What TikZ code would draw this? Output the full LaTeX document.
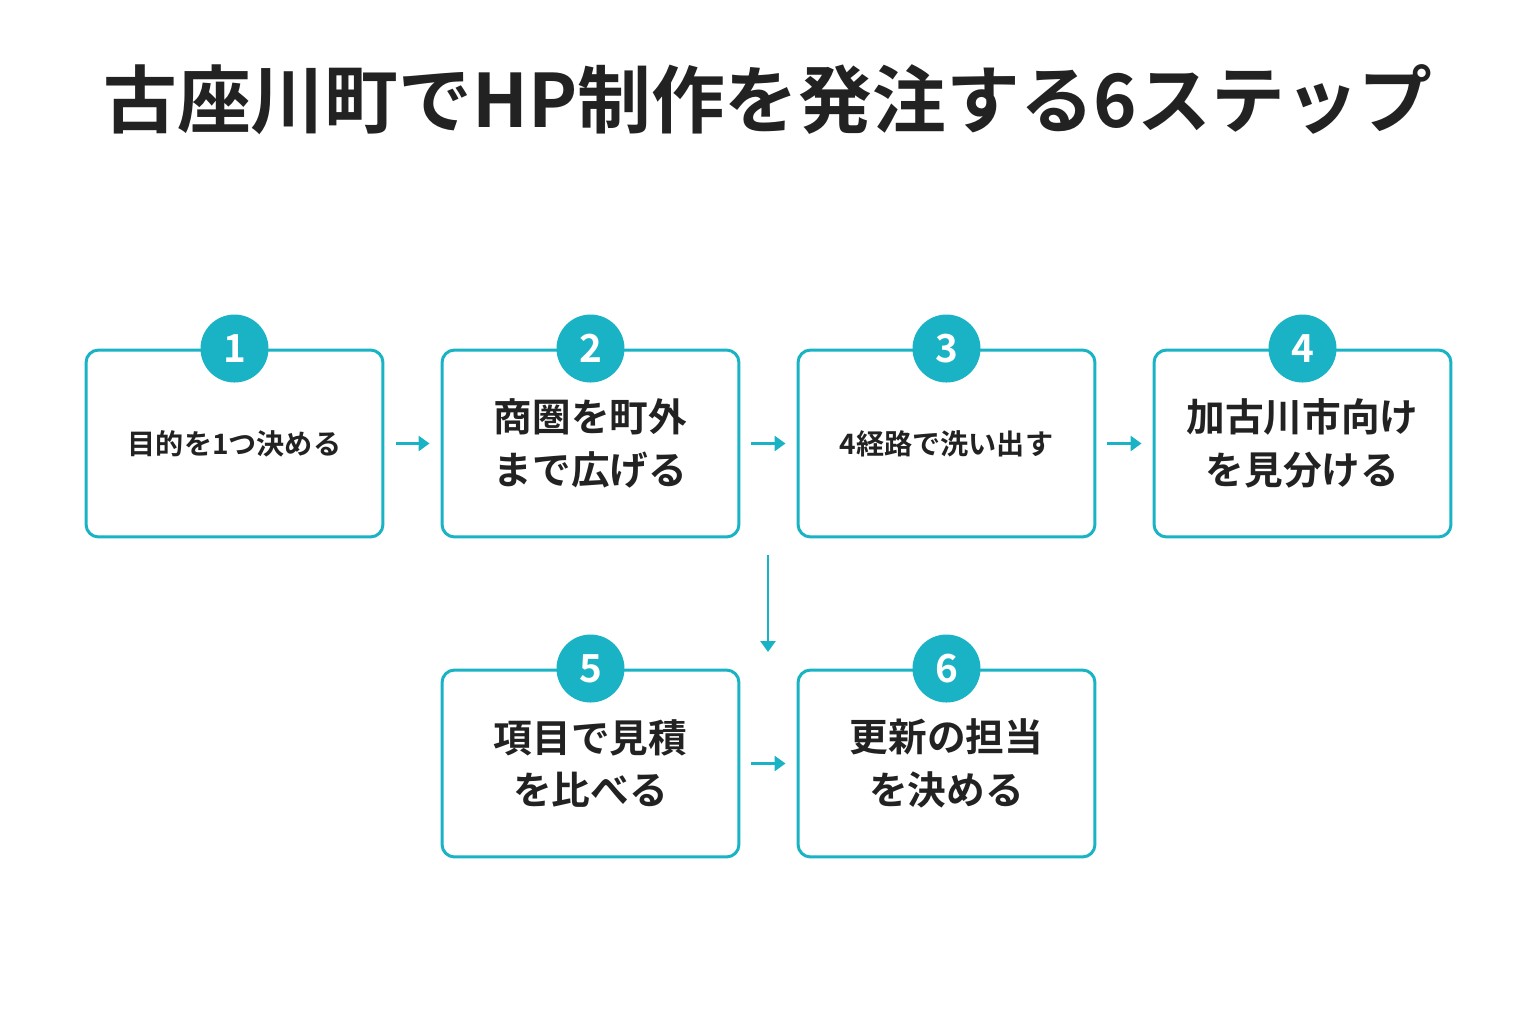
\documentclass[tikz,border=0pt]{standalone}
\usepackage{fontspec}
\setmainfont{Noto Sans CJK JP}[BoldFont={Noto Sans CJK JP Bold}]
\usetikzlibrary{positioning, arrows.meta}
\definecolor{teal1}{HTML}{1AB3C5}
\definecolor{ink}{HTML}{222222}

\begin{document}
\begin{tikzpicture}[
    x=0.02cm, y=-0.02cm,
    stepbox/.style={rectangle, rounded corners=2.5mm, draw=teal1, line width=1.7pt, fill=white,
                 minimum width=5.94cm, minimum height=3.74cm, align=center,
                 font=\bfseries\fontsize{22}{30}\selectfont, text=ink},
    small/.style={font=\bfseries\fontsize{16}{20}\selectfont},
    num/.style={circle, fill=teal1, minimum size=1.36cm, inner sep=0pt, text=white,
                font=\bfseries\fontsize{22}{22}\selectfont},
    arrow/.style={-{Triangle[length=2.2mm, width=3mm]}, draw=teal1, line width=1.7pt}
]
\useasboundingbox (0,0) rectangle (1536,1024);

% --- Titel ---
\node[font=\bfseries\fontsize{42}{46}\selectfont, text=ink] (title) at (768,100) {古座川町でHP制作を発注する6ステップ};

% --- Schritte ---
\node[stepbox, small] (s1) at (234.5,443.5) {目的を1つ決める};
\node[stepbox] (s2) at (590.5,443.5) {商圏を町外\\まで広げる};
\node[stepbox, small] (s3) at (946.5,443.5) {4経路で洗い出す};
\node[stepbox] (s4) at (1302.5,443.5) {加古川市向け\\を見分ける};
\node[stepbox] (s5) at (590.5,763.5) {項目で見積\\を比べる};
\node[stepbox] (s6) at (946.5,763.5) {更新の担当\\を決める};

% --- Nummern ---
\foreach \i in {1,...,6}
    \node[num] (n\i) at (s\i.north) {\i};

% --- Pfeile ---
\draw[arrow, shorten <=0.24cm, shorten >=0.22cm] (s1) -- (s2);
\draw[arrow, shorten <=0.22cm, shorten >=0.22cm] (s2) -- (s3);
\draw[arrow, shorten <=0.22cm, shorten >=0.22cm] (s3) -- (s4);
\draw[arrow, shorten <=0.22cm, shorten >=0.22cm] (s5) -- (s6);

\coordinate (down1) at (768,555);
\coordinate (down2) at (768,652);
\draw[arrow] (down1) -- (down2);

\end{tikzpicture}
\end{document}
